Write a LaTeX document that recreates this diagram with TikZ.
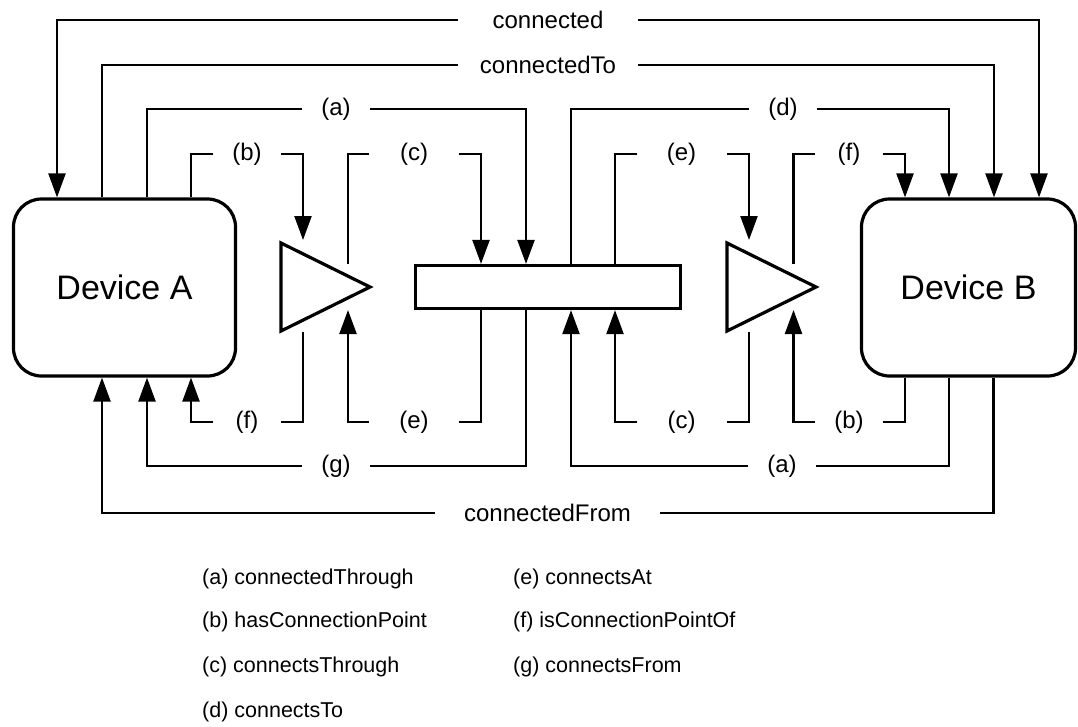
\documentclass[tikz,border=0pt]{standalone}
\usepackage{fontspec}
\setmainfont{Liberation Sans}
\usetikzlibrary{arrows.meta}
\begin{document}
\begin{tikzpicture}[x=1pt,y=-1pt,
  conn/.style={line width=2.3pt},
  tip/.style={-{Triangle[length=24pt,width=17pt]}},
  device/.style={draw,line width=3.2pt,rounded corners=28pt,minimum width=222pt,
    minimum height=177pt,inner sep=0pt,font=\fontsize{34}{40}\selectfont},
  hub/.style={draw,line width=3.2pt,minimum width=265pt,minimum height=43pt,inner sep=0pt},
  amp/.style={minimum width=89pt,minimum height=88pt,inner sep=0pt,outer sep=0pt},
  ampline/.style={line width=3.2pt},
  lbl/.style={font=\fontsize{24}{28}\selectfont,inner sep=0pt,outer sep=0pt,minimum width=68pt},
  wide/.style={minimum width=90pt},
  legend/.style={anchor=west,inner sep=0pt,font=\fontsize{21.5}{26}\selectfont}
]
\useasboundingbox (0,0) rectangle (1078,726);

% devices, amplifiers and the bus bar
\node[device] (devA) at (124.5,287.5) {Device A};
\node[device,minimum width=214pt] (devB) at (968.5,287.5) {Device B};
\node[hub] (bar) at (548,287) {};
\node[amp] (amp1) at (325.5,287) {};
\node[amp] (amp2) at (771.5,287) {};
\draw[ampline] (amp1.north west) -- (amp1.east) -- (amp1.south west) -- cycle;
\draw[ampline] (amp2.north west) -- (amp2.east) -- (amp2.south west) -- cycle;

% relation labels (the connectors stop at their borders)
\node[lbl,minimum width=180pt] (lconnected)   at (548,20)  {connected};
\node[lbl,minimum width=180pt] (lconnectedTo) at (548,65)  {connectedTo};
\node[lbl] (la_t) at (336,109) {(a)};
\node[lbl] (ld_t) at (783,109) {(d)};
\node[lbl] (lb_t) at (247,154) {(b)};
\node[lbl,wide] (lc_t) at (414,154) {(c)};
\node[lbl,wide] (le_t) at (681.5,154) {(e)};
\node[lbl] (lf_t) at (849,154) {(f)};
\node[lbl] (lf_b) at (247,422) {(f)};
\node[lbl,wide] (le_b) at (414,422) {(e)};
\node[lbl,wide] (lc_b) at (681.5,422) {(c)};
\node[lbl] (lb_b) at (849,422) {(b)};
\node[lbl] (lg_b) at (336,466) {(g)};
\node[lbl] (la_b) at (782,466) {(a)};
\node[lbl,minimum width=225pt] (lconnectedFrom) at (547.5,513) {connectedFrom};

% upper connectors
\draw[conn,tip] (lconnected) -| ([shift={(-67.5,0)}]devA.north);
\draw[conn,tip] (lconnected) -| ([shift={(70.5,0)}]devB.north);
\draw[conn,tip] ([shift={(-22.5,0)}]devA.north) |- (lconnectedTo) -| ([shift={(25.5,0)}]devB.north);
\draw[conn,tip] ([shift={(22.5,0)}]devA.north) |- (la_t) -| ([shift={(-22,0)}]bar.north);
\draw[conn,tip] ([shift={(66.5,0)}]devA.north) |- (lb_t) -| ([shift={(-22.5,-47)}]amp1.center);
\draw[conn,tip] ([shift={(22.5,-23)}]amp1.center) |- (lc_t) -| ([shift={(-67,0)}]bar.north);
\draw[conn,tip] ([shift={(23,0)}]bar.north) |- (ld_t) -| ([shift={(-19.5,0)}]devB.north);
\draw[conn,tip] ([shift={(67,0)}]bar.north) |- (le_t) -| ([shift={(-22.5,-47)}]amp2.center);
\draw[conn,tip] ([shift={(22,-23)}]amp2.center) |- (lf_t) -| ([shift={(-63.5,0)}]devB.north);

% lower connectors
\draw[conn,tip] ([shift={(-22.5,45)}]amp1.center) |- (lf_b) -| ([shift={(66.5,0)}]devA.south);
\draw[conn,tip] ([shift={(-67,0)}]bar.south) |- (le_b) -| ([shift={(22.5,23)}]amp1.center);
\draw[conn,tip] ([shift={(-22,0)}]bar.south) |- (lg_b) -| ([shift={(22.5,0)}]devA.south);
\draw[conn,tip] ([shift={(25,0)}]devB.south) |- (lconnectedFrom) -| ([shift={(-22.5,0)}]devA.south);
\draw[conn,tip] ([shift={(-19.5,0)}]devB.south) |- (la_b) -| ([shift={(23,0)}]bar.south);
\draw[conn,tip] ([shift={(-63.5,0)}]devB.south) |- (lb_b) -| ([shift={(22,23)}]amp2.center);
\draw[conn,tip] ([shift={(-22.5,45)}]amp2.center) |- (lc_b) -| ([shift={(67,0)}]bar.south);

% key to the lettered relations
\node[legend] (k_a) at (202,579) {(a) connectedThrough};
\node[legend] (k_b) at (202,622) {(b) hasConnectionPoint};
\node[legend] (k_c) at (202,667) {(c) connectsThrough};
\node[legend] (k_d) at (202,712) {(d) connectsTo};
\node[legend] (k_e) at (513,579) {(e) connectsAt};
\node[legend] (k_f) at (513,622) {(f) isConnectionPointOf};
\node[legend] (k_g) at (513,667) {(g) connectsFrom};
\end{tikzpicture}
\end{document}
